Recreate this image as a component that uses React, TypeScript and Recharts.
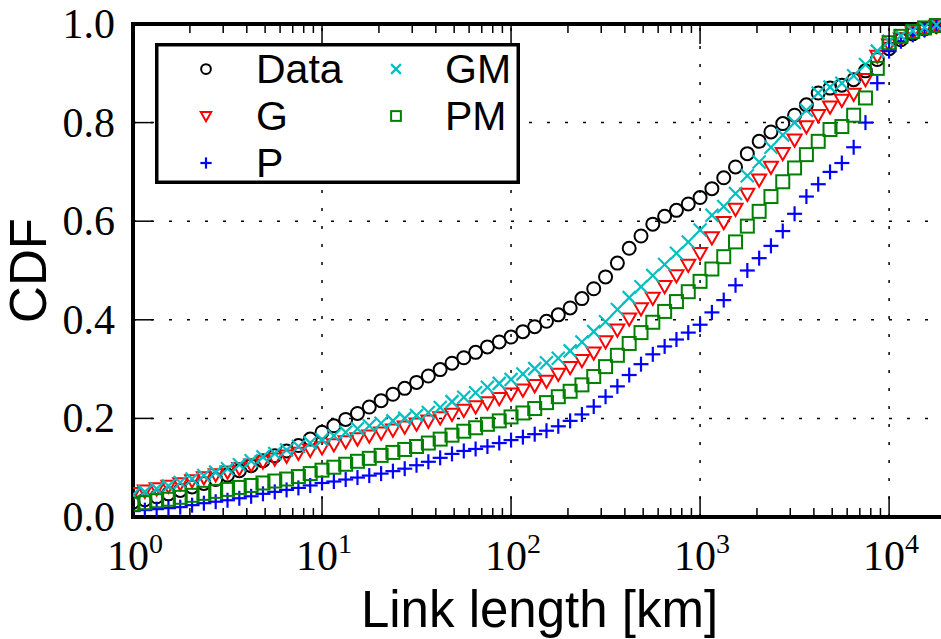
import React from "react"
import {
  ScatterChart,
  Scatter,
  XAxis,
  YAxis,
  CartesianGrid,
  ReferenceLine,
  Legend,
  Label,
} from "recharts"

// link length sample points [km], 16 per decade
const lengths = [
  1, 1.155, 1.334, 1.54, 1.778, 2.054, 2.371, 2.738, 3.162, 3.652, 4.217, 4.87, 5.623, 6.494, 7.499, 8.66,
  10, 11.55, 13.34, 15.4, 17.78, 20.54, 23.71, 27.38, 31.62, 36.52, 42.17, 48.7, 56.23, 64.94, 74.99, 86.6,
  100, 115.5, 133.4, 154, 177.8, 205.4, 237.1, 273.8, 316.2, 365.2, 421.7, 487, 562.3, 649.4, 749.9, 866,
  1000, 1155, 1334, 1540, 1778, 2054, 2371, 2738, 3162, 3652, 4217, 4870, 5623, 6494, 7499, 8660,
  10000, 11550, 13340, 15400, 17780,
]

const cdfData = [
  0.03, 0.035, 0.041, 0.047, 0.054, 0.061, 0.068, 0.076, 0.085, 0.094, 0.104, 0.114, 0.124, 0.134, 0.145, 0.158,
  0.172, 0.185, 0.198, 0.21, 0.223, 0.236, 0.249, 0.261, 0.273, 0.286, 0.299, 0.312, 0.323, 0.334, 0.345, 0.355,
  0.365, 0.376, 0.386, 0.397, 0.41, 0.424, 0.443, 0.463, 0.487, 0.515, 0.545, 0.57, 0.594, 0.61, 0.622, 0.635,
  0.648, 0.666, 0.688, 0.71, 0.737, 0.762, 0.781, 0.798, 0.815, 0.836, 0.86, 0.87, 0.876, 0.887, 0.905, 0.928,
  0.95, 0.968, 0.98, 0.99, 0.996,
]

const cdfG = [
  0.048, 0.053, 0.058, 0.063, 0.068, 0.074, 0.08, 0.086, 0.092, 0.099, 0.106, 0.112, 0.118, 0.124, 0.13, 0.136,
  0.141, 0.147, 0.153, 0.159, 0.165, 0.171, 0.177, 0.183, 0.189, 0.195, 0.202, 0.209, 0.217, 0.224, 0.232, 0.241,
  0.25, 0.258, 0.267, 0.276, 0.29, 0.304, 0.318, 0.333, 0.356, 0.38, 0.402, 0.423, 0.444, 0.468, 0.49, 0.511,
  0.535, 0.567, 0.598, 0.625, 0.655, 0.684, 0.71, 0.738, 0.765, 0.792, 0.815, 0.832, 0.846, 0.858, 0.888, 0.935,
  0.958, 0.97, 0.982, 0.99, 0.996,
]

const cdfP = [
  0.012, 0.014, 0.016, 0.018, 0.02, 0.024, 0.028, 0.031, 0.034, 0.038, 0.042, 0.047, 0.051, 0.055, 0.059, 0.064,
  0.069, 0.072, 0.076, 0.08, 0.084, 0.088, 0.093, 0.098, 0.105, 0.112, 0.12, 0.128, 0.134, 0.138, 0.143, 0.15,
  0.156, 0.162, 0.168, 0.175, 0.184, 0.195, 0.208, 0.224, 0.244, 0.265, 0.288, 0.31, 0.33, 0.346, 0.36, 0.374,
  0.39, 0.415, 0.44, 0.47, 0.5, 0.525, 0.55, 0.58, 0.615, 0.65, 0.675, 0.7, 0.718, 0.75, 0.8, 0.88,
  0.945, 0.965, 0.978, 0.988, 0.995,
]

const cdfGM = [
  0.045, 0.051, 0.057, 0.063, 0.07, 0.077, 0.084, 0.091, 0.098, 0.106, 0.114, 0.122, 0.129, 0.136, 0.143, 0.15,
  0.157, 0.165, 0.172, 0.179, 0.185, 0.19, 0.195, 0.2, 0.206, 0.212, 0.222, 0.234, 0.243, 0.252, 0.263, 0.271,
  0.279, 0.29, 0.301, 0.313, 0.322, 0.337, 0.355, 0.376, 0.396, 0.421, 0.445, 0.467, 0.49, 0.512, 0.535, 0.558,
  0.582, 0.612, 0.63, 0.656, 0.692, 0.72, 0.75, 0.775, 0.8, 0.825, 0.86, 0.872, 0.88, 0.895, 0.918, 0.945,
  0.965, 0.976, 0.986, 0.993, 0.998,
]

const cdfPM = [
  0.026, 0.029, 0.033, 0.036, 0.04, 0.044, 0.048, 0.052, 0.056, 0.06, 0.064, 0.069, 0.073, 0.077, 0.082, 0.088,
  0.095, 0.101, 0.107, 0.113, 0.119, 0.125, 0.131, 0.137, 0.143, 0.15, 0.158, 0.166, 0.174, 0.181, 0.188, 0.195,
  0.203, 0.211, 0.22, 0.232, 0.244, 0.255, 0.268, 0.285, 0.305, 0.328, 0.352, 0.374, 0.395, 0.417, 0.437, 0.457,
  0.478, 0.503, 0.528, 0.558, 0.59, 0.62, 0.65, 0.68, 0.708, 0.735, 0.762, 0.786, 0.792, 0.815, 0.85, 0.91,
  0.962, 0.975, 0.985, 0.992, 0.997,
]

const majorTicks = [1, 10, 100, 1000, 10000]
const minorTicks = [
  2, 3, 4, 5, 6, 7, 8, 9, 20, 30, 40, 50, 60, 70, 80, 90, 200, 300, 400, 500, 600, 700, 800, 900,
  2000, 3000, 4000, 5000, 6000, 7000, 8000, 9000, 20000,
]
const yTicks = [0, 0.2, 0.4, 0.6, 0.8, 1.0]

const series = [
  { name: "Data", kind: "circle", color: "#000000", values: cdfData },
  { name: "G", kind: "tri", color: "#ff0000", values: cdfG },
  { name: "P", kind: "plus", color: "#0000ff", values: cdfP },
  { name: "GM", kind: "cross", color: "#00bfbf", values: cdfGM },
  { name: "PM", kind: "square", color: "#008000", values: cdfPM },
]

const serifFont = "'Liberation Serif', 'DejaVu Serif', serif"
const sansFont = "'Liberation Sans', Arial, sans-serif"
const allXTicks = [...majorTicks, ...minorTicks].sort((a, b) => a - b)

function Marker({ kind, color, cx, cy, s }: { kind: string; color: string; cx: number; cy: number; s: number }) {
  const sw = 2
  if (kind === "circle") return <circle cx={cx} cy={cy} r={6.5 * s} fill="none" stroke={color} strokeWidth={sw} />
  if (kind === "tri") {
    const h = 7 * s
    return (
      <polygon
        points={`${cx - h},${cy - h * 0.75} ${cx + h},${cy - h * 0.75} ${cx},${cy + h}`}
        fill="none"
        stroke={color}
        strokeWidth={sw}
      />
    )
  }
  if (kind === "plus") {
    const h = 7.5 * s
    return (
      <g stroke={color} strokeWidth={2.2}>
        <line x1={cx - h} x2={cx + h} y1={cy} y2={cy} />
        <line x1={cx} x2={cx} y1={cy - h} y2={cy + h} />
      </g>
    )
  }
  if (kind === "cross") {
    const h = 6.5 * s
    return (
      <g stroke={color} strokeWidth={2.2}>
        <line x1={cx - h} x2={cx + h} y1={cy - h} y2={cy + h} />
        <line x1={cx - h} x2={cx + h} y1={cy + h} y2={cy - h} />
      </g>
    )
  }
  const h = 6.5 * s
  return <rect x={cx - h} y={cy - h} width={2 * h} height={2 * h} fill="none" stroke={color} strokeWidth={sw} />
}

const BottomTick = (props: any) => {
  const { x, y, payload } = props
  const v = payload.value
  const major = majorTicks.includes(v)
  return (
    <g>
      <line x1={x} x2={x} y1={y} y2={y - (major ? 20 : 9)} stroke="#000" strokeWidth={1.5} />
      {major && (
        <text x={x + 2} y={y + 53} textAnchor="middle" fontFamily={serifFont} fontSize={42} fill="#000">
          10
          <tspan dy={-17} fontSize={28}>
            {Math.round(Math.log10(v))}
          </tspan>
        </text>
      )}
    </g>
  )
}

const TopTick = (props: any) => {
  const { x, y, payload } = props
  const major = majorTicks.includes(payload.value)
  return <line x1={x} x2={x} y1={y} y2={y + (major ? 20 : 9)} stroke="#000" strokeWidth={1.5} />
}

const LeftTick = (props: any) => {
  const { x, y, payload } = props
  return (
    <g>
      <line x1={x} x2={x + 20} y1={y} y2={y} stroke="#000" strokeWidth={1.5} />
      <text x={x - 18} y={y + 14} textAnchor="end" fontFamily={serifFont} fontSize={42} fill="#000">
        {Number(payload.value).toFixed(1)}
      </text>
    </g>
  )
}

const RightTick = (props: any) => {
  const { x, y } = props
  return <line x1={x} x2={x - 20} y1={y} y2={y} stroke="#000" strokeWidth={1.5} />
}

const LegendBox = () => (
  <svg width={365} height={152} style={{ display: "block", overflow: "visible" }}>
    <rect x={1.75} y={1.75} width={361.5} height={137.5} fill="#fff" stroke="#000" strokeWidth={3.5} />
    {series.map((s, i) => {
      const col = Math.floor(i / 3)
      const row = i % 3
      const my = 26 + row * 47
      return (
        <g key={s.name}>
          <Marker kind={s.kind} color={s.color} cx={col === 0 ? 51 : 241} cy={my} s={0.75} />
          <text x={col === 0 ? 101 : 290} y={my + 14} fontFamily={sansFont} fontSize={41} fill="#000">
            {s.name}
          </text>
        </g>
      )
    })}
  </svg>
)

const axisLineStyle = { stroke: "#000", strokeWidth: 4, strokeLinecap: "square" as const }

export default function App() {
  const tables = series.map((s) => lengths.map((x, i) => ({ x, y: s.values[i] })))

  return (
    <div
      style={{
        position: "fixed",
        left: 0,
        top: 0,
        width: 941,
        height: 639,
        overflow: "hidden",
        background: "#fff",
      }}
    >
      <ScatterChart width={960} height={639} margin={{ top: 23, right: 13, bottom: 121, left: 132 }}>
        <CartesianGrid vertical={false} stroke="#000" strokeWidth={1.5} strokeDasharray="3 15" />
        {majorTicks.slice(1).map((v) => (
          <ReferenceLine key={v} x={v} stroke="#000" strokeWidth={1.5} strokeDasharray="3 15" />
        ))}
        <XAxis
          dataKey="x"
          type="number"
          scale="log"
          domain={[1, 20000]}
          allowDataOverflow
          ticks={allXTicks}
          interval={0}
          height={1}
          tickSize={0}
          tickMargin={0}
          tick={<BottomTick />}
          axisLine={axisLineStyle}
        >
          <Label
            content={(p: any) => {
              const vb = p.viewBox
              return (
                <text
                  x={vb.x + vb.width / 2}
                  y={vb.y + 110}
                  textAnchor="middle"
                  fontFamily={sansFont}
                  fontSize={51}
                  fill="#000"
                >
                  Link length [km]
                </text>
              )
            }}
          />
        </XAxis>
        <XAxis
          xAxisId="top"
          orientation="top"
          dataKey="x"
          type="number"
          scale="log"
          domain={[1, 20000]}
          allowDataOverflow
          ticks={allXTicks}
          interval={0}
          height={1}
          tickSize={0}
          tickMargin={0}
          tick={<TopTick />}
          axisLine={axisLineStyle}
        />
        <YAxis
          dataKey="y"
          type="number"
          domain={[0, 1]}
          ticks={yTicks}
          interval={0}
          width={1}
          tickSize={0}
          tickMargin={0}
          tick={<LeftTick />}
          axisLine={axisLineStyle}
        >
          <Label
            content={(p: any) => {
              const vb = p.viewBox
              const cx = vb.x + vb.width - 87
              const cy = vb.y + vb.height / 2
              return (
                <text
                  x={cx}
                  y={cy}
                  transform={`rotate(-90 ${cx} ${cy})`}
                  textAnchor="middle"
                  fontFamily={sansFont}
                  fontSize={51}
                  fill="#000"
                >
                  CDF
                </text>
              )
            }}
          />
        </YAxis>
        <YAxis
          yAxisId="right"
          orientation="right"
          dataKey="y"
          type="number"
          domain={[0, 1]}
          ticks={yTicks}
          interval={0}
          width={1}
          tickSize={0}
          tickMargin={0}
          tick={<RightTick />}
          axisLine={axisLineStyle}
        />
        {series.map((s, i) => (
          <Scatter
            key={s.name}
            name={s.name}
            data={tables[i]}
            isAnimationActive={false}
            shape={(p: any) => <Marker kind={s.kind} color={s.color} cx={p.cx} cy={p.cy} s={1} />}
          />
        ))}
        <Legend
          layout="horizontal"
          verticalAlign="middle"
          align="center"
          wrapperStyle={{ left: 155, top: 43, width: 365, height: 152 }}
          content={() => <LegendBox />}
        />
      </ScatterChart>
    </div>
  )
}
